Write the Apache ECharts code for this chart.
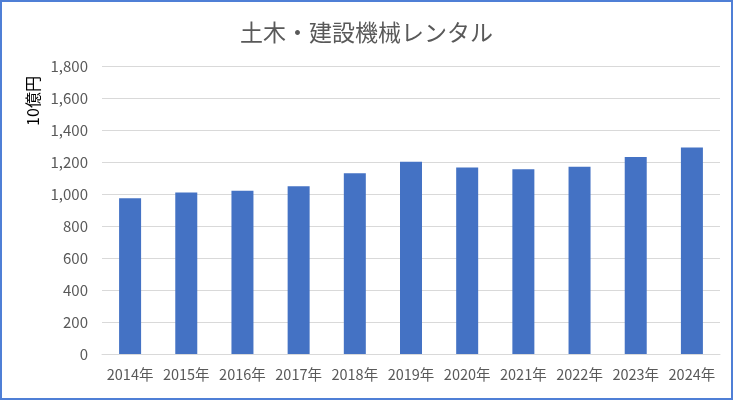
<!DOCTYPE html>
<html><head><meta charset="utf-8">
<script src="https://cdn.jsdelivr.net/npm/echarts@6/dist/echarts.min.js"></script>
<style>
html,body{margin:0;padding:0;background:#fff;}
#c{position:absolute;left:0;top:0;width:733px;height:400px;box-sizing:border-box;border:2px solid #4f7fd6;}
</style></head><body>
<div id="c"></div>
<script>
const categories = ["2014年","2015年","2016年","2017年","2018年","2019年","2020年","2021年","2022年","2023年","2024年"];
const values = [973, 1010, 1021, 1048, 1129, 1202, 1165, 1154, 1171, 1231, 1290];
const titleText = "土木・建設機械レンタル";
const yAxisName = "10億円";

const chart = echarts.init(document.getElementById('c'), null, {renderer:'canvas'});
const font = '"Noto Sans CJK JP", "Noto Sans", sans-serif';
chart.setOption({
  animation:false,
  title:{text:titleText,left:'center',top:14,textStyle:{fontFamily:font,fontSize:23,fontWeight:'normal',color:'#595959'}},
  grid:{left:100,right:11,top:64,bottom:44,containLabel:false},
  graphic:[{type:'text',x:31,y:99,rotation:Math.PI/2,
    style:{text:yAxisName,fontFamily:font,fontSize:16,fill:'#000',align:'center',verticalAlign:'middle'}}],
  xAxis:{type:'category',data:categories,
    axisLine:{lineStyle:{color:'#d9d9d9',width:1}},axisTick:{show:false},
    axisLabel:{fontFamily:font,fontSize:14.5,color:'#595959',margin:13,interval:0}},
  yAxis:{type:'value',min:0,max:1800,interval:200,
    axisLine:{show:false},axisTick:{show:false},
    splitLine:{lineStyle:{color:'#d9d9d9',width:1}},
    axisLabel:{fontFamily:font,fontSize:15,color:'#595959',margin:14,
      formatter:v=>v.toLocaleString('en-US')}},
  series:[{type:'bar',data:values,barWidth:22,itemStyle:{color:'#4472c4'}}]
});
</script></body></html>
